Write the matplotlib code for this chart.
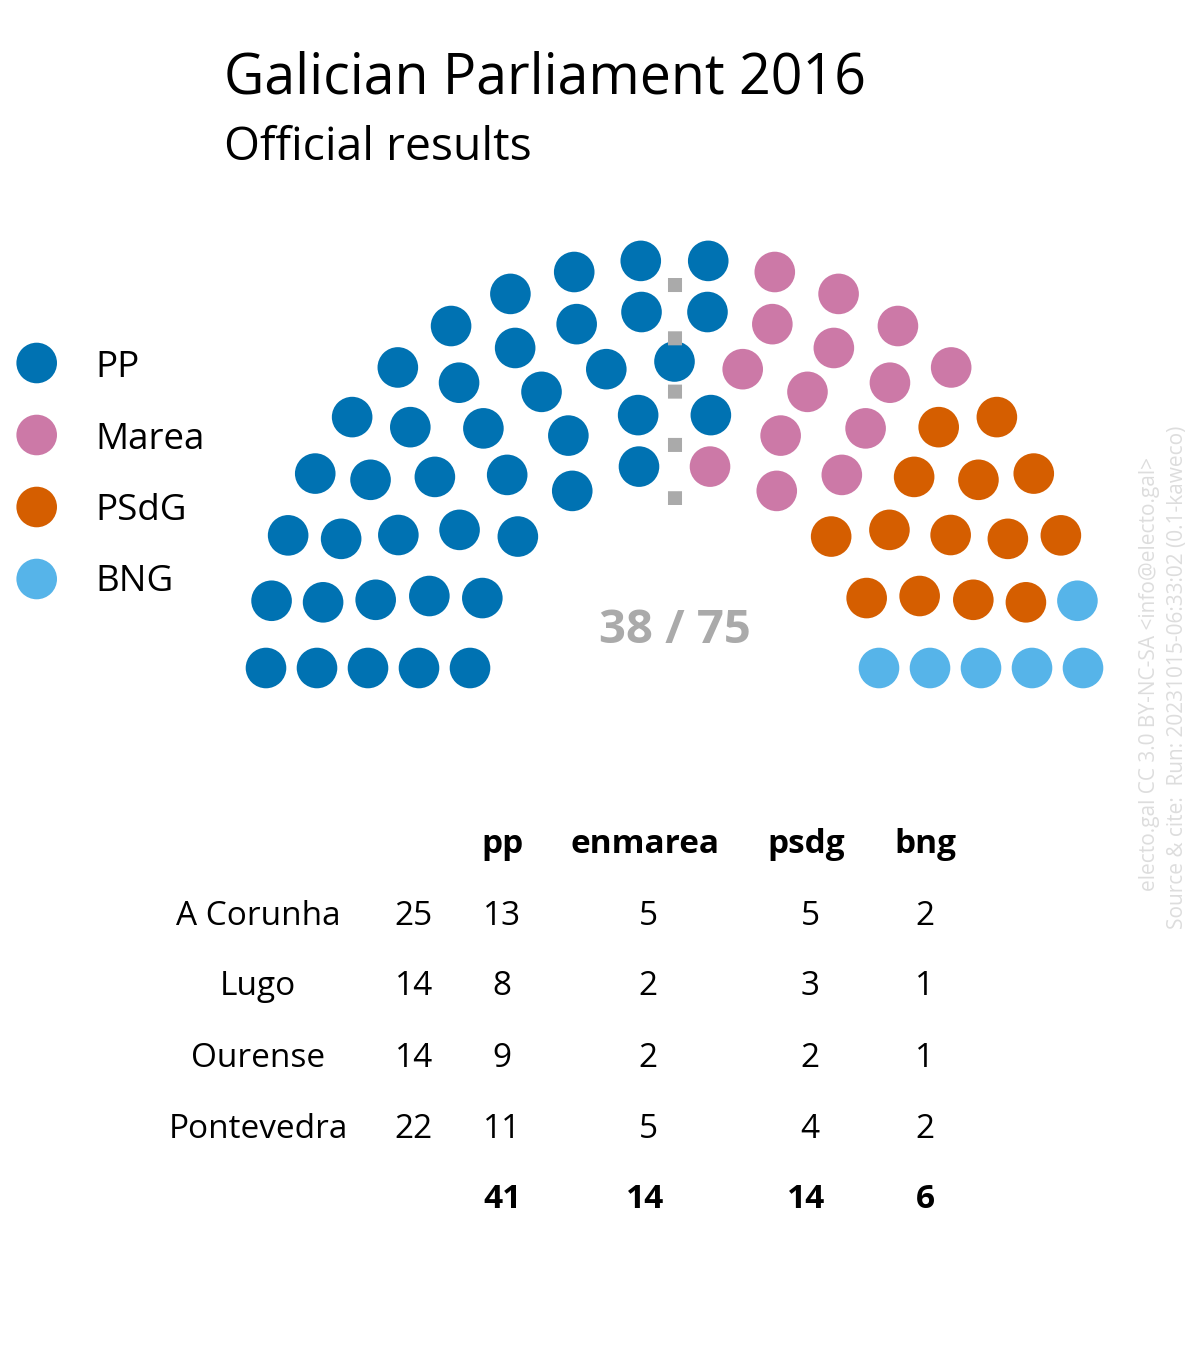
import numpy as np
import matplotlib
matplotlib.use("Agg")
import matplotlib.pyplot as plt
from matplotlib.patches import Circle
from matplotlib.lines import Line2D

# ---------------- data ----------------
parties = ["PP", "Marea", "PSdG", "BNG"]
seats = [41, 14, 14, 6]
colors = ["#0072b2", "#cc79a7", "#d55e00", "#56b4e9"]
total_seats = 75
majority = 38

table_cols = ["pp", "enmarea", "psdg", "bng"]
provinces = ["A Corunha", "Lugo", "Ourense", "Pontevedra"]
province_totals = [25, 14, 14, 22]
pp_by_prov = [13, 8, 9, 11]
enmarea_by_prov = [5, 2, 2, 5]
psdg_by_prov = [5, 3, 2, 4]
bng_by_prov = [2, 1, 1, 2]
col_totals = [41, 14, 14, 6]

title = "Galician Parliament 2016"
subtitle = "Official results"
credit1 = "electo.gal CC 3.0 BY-NC-SA <info@electo.gal>"
credit2 = "Source & cite:  Run: 20231015-06:33:02 (0.1-kaweco)"

FONT = "Open Sans"
plt.rcParams["font.family"] = [FONT, "DejaVu Sans"]

# ---------------- figure ----------------
fig = plt.figure(figsize=(12, 13.5), dpi=100)
ax = fig.add_axes([0, 0, 1, 1])
ax.set_xlim(0, 1200)
ax.set_ylim(1350, 0)
ax.axis("off")

# hemicycle layout
rows_seats = [10, 12, 15, 18, 20]
cx, cy = 674.5, 668.0
r_inner, r_step = 204.5, 51.0
seat_r = 20.3
pts = []
for k, n in enumerate(rows_seats):
    r = r_inner + k * r_step
    for a in np.linspace(np.pi, 0, n):
        pts.append((a, r, cx + r * np.cos(a), cy - r * np.sin(a)))
pts.sort(key=lambda p: (-round(p[0], 9), p[1]))
seat_colors = np.repeat(colors, seats)
for (a, r, x, y), c in zip(pts, seat_colors):
    ax.add_patch(Circle((x, y), seat_r, facecolor=c, edgecolor="none", zorder=2))

# majority divider
ax.add_line(Line2D([cx + 0.5, cx + 0.5], [278, 505], color="#aaaaaa", lw=10.1,
                   dashes=(1, 2.8), solid_capstyle="butt", dash_capstyle="butt", zorder=3))
ax.text(cx, 643, f"{majority} / {total_seats}", ha="center", va="baseline",
        fontsize=34, fontweight="bold", color="#aaaaaa")

# legend
leg_y = [363, 435, 507, 579]
leg_base = [377, 449, 520, 591]
for p, c, y, b in zip(parties, colors, leg_y, leg_base):
    ax.add_patch(Circle((36.7, y), seat_r, facecolor=c, edgecolor="none"))
    ax.text(95, b, p, ha="left", va="baseline", fontsize=26.5, color="black")

# titles
ax.text(224, 93, title, ha="left", va="baseline", fontsize=40, color="black")
ax.text(224, 160, subtitle, ha="left", va="baseline", fontsize=33.3, color="black")

# table
hdr_x = [502, 645, 806, 925]
num_x = [502, 648, 810, 925]
hdr_base = 853
row_base = [925, 995, 1067, 1138]
tot_base = 1208
fs_tab = 24
for h, x in zip(table_cols, hdr_x):
    ax.text(x, hdr_base, h, ha="center", va="baseline", fontsize=fs_tab, fontweight="bold")
cols = [pp_by_prov, enmarea_by_prov, psdg_by_prov, bng_by_prov]
for i, (prov, tot) in enumerate(zip(provinces, province_totals)):
    ax.text(258, row_base[i], prov, ha="center", va="baseline", fontsize=fs_tab)
    ax.text(414, row_base[i], str(tot), ha="center", va="baseline", fontsize=fs_tab)
    for col, x in zip(cols, num_x):
        ax.text(x, row_base[i], str(col[i]), ha="center", va="baseline", fontsize=fs_tab)
for t, x in zip(col_totals, hdr_x):
    ax.text(x, tot_base, str(t), ha="center", va="baseline", fontsize=fs_tab, fontweight="bold")

# credits
ax.text(1150, 674, credit1, rotation=90, ha="center", va="center", fontsize=15, color="#dddddd")
ax.text(1178, 677, credit2, rotation=90, ha="center", va="center", fontsize=15, color="#dddddd")

fig.savefig("out.png", dpi=100, facecolor="white")
